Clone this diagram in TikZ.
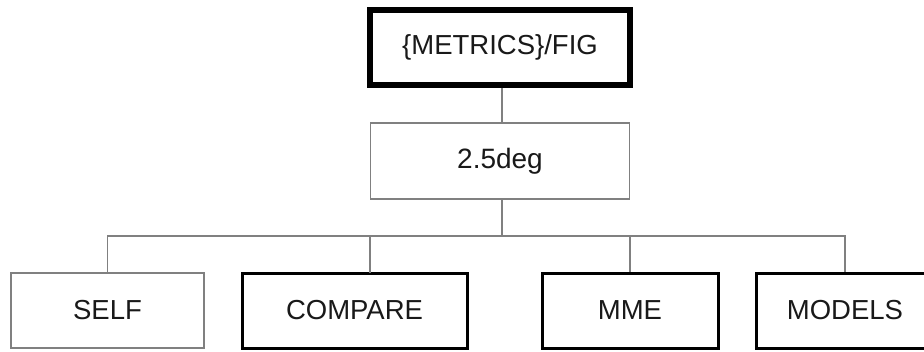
\documentclass[tikz,border=0pt]{standalone}
\usepackage{fontspec}
\setmainfont{Liberation Sans}
\begin{document}
\begin{tikzpicture}[x=1pt,y=-1pt,
  lbl/.style={font=\fontsize{27.5}{32}\selectfont, text=black!90, inner sep=0pt, anchor=center},
  topbox/.style={lbl, draw=black, line width=6pt, minimum width=260pt, minimum height=75pt},
  thinbox/.style={lbl, draw=black!50, line width=1.3pt, fill=white},
  thickbox/.style={lbl, draw=black, line width=3pt, fill=white},
  conn/.style={draw=black!50, line width=1.3pt}]
\useasboundingbox (0,0) rectangle (924,351);
\clip (0,0) rectangle (924,351);
\fill[white] (0,0) rectangle (924,351);
\node[topbox, font=\fontsize{27.5}{32}\selectfont] (top) at (500,47.5) {\{METRICS\}/FIG};
\node[thinbox, minimum width=259pt, minimum height=76pt, font=\fontsize{28}{32}\selectfont] (mid) at (500,161) {2.5deg};
\node[thinbox, minimum width=193pt, minimum height=75pt] (self) at (107.5,310.5) {SELF};
\node[thickbox, minimum width=225pt, minimum height=75pt] (cmp) at (354.5,310.5) {COMPARE};
\node[thickbox, minimum width=176pt, minimum height=75pt] (mme) at (630,310.5) {MME};
\node[thickbox, minimum width=178pt, minimum height=75pt] (models) at (845,310.5) {MODELS};
\coordinate (bus) at (502,236);
\coordinate (cmpdrop) at (370,236);
\coordinate (cmptop) at (370,273);
\draw[conn] (top.south -| bus) -- (mid.north -| bus);
\draw[conn] (mid.south -| bus) -- (bus);
\draw[conn] (self.north) |- (bus) -| (models.north);
\draw[conn] (cmpdrop) -- (cmptop);
\draw[conn] (bus -| mme.north) -- (mme.north);
\end{tikzpicture}
\end{document}
